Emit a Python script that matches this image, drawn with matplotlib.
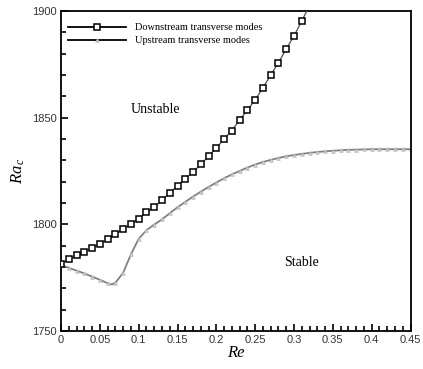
import numpy as np
import matplotlib
matplotlib.use("Agg")
import matplotlib.pyplot as plt
from matplotlib.ticker import MultipleLocator, FixedLocator

plt.rcParams["mathtext.fontset"] = "custom"
plt.rcParams["mathtext.it"] = "Liberation Serif:italic"
plt.rcParams["mathtext.rm"] = "Liberation Serif"

# Data
re_down = [0.00, 0.01, 0.02, 0.03, 0.04, 0.05, 0.06, 0.07, 0.08, 0.09,
           0.10, 0.11, 0.12, 0.13, 0.14, 0.15, 0.16, 0.17, 0.18, 0.19,
           0.20, 0.21, 0.22, 0.23, 0.24, 0.25, 0.26, 0.27, 0.28, 0.29,
           0.30, 0.31, 0.32]
ra_down = [1781.5, 1783.6, 1785.4, 1787.2, 1789.0, 1790.9, 1793.2, 1795.5, 1797.6, 1800.2,
           1802.7, 1805.6, 1808.0, 1811.3, 1814.7, 1818.1, 1821.4, 1824.5, 1828.1, 1831.9,
           1835.8, 1840.0, 1843.9, 1849.0, 1853.5, 1858.4, 1864.0, 1869.9, 1875.8, 1882.2,
           1888.3, 1895.3, 1902.6]

re_up = [0.00, 0.01, 0.02, 0.03, 0.04, 0.05, 0.06, 0.065, 0.07, 0.08, 0.09,
         0.10, 0.11, 0.12, 0.13, 0.14, 0.15, 0.16, 0.17, 0.18, 0.19,
         0.20, 0.21, 0.22, 0.23, 0.24, 0.25, 0.26, 0.27, 0.28, 0.29,
         0.30, 0.31, 0.32, 0.33, 0.34, 0.35, 0.36, 0.37, 0.38, 0.39,
         0.40, 0.41, 0.42, 0.43, 0.44, 0.45]
ra_up = [1781.0, 1779.6, 1778.3, 1777.0, 1775.5, 1774.0, 1772.4, 1771.8, 1772.6, 1777.3, 1785.9,
         1793.2, 1797.2, 1799.9, 1802.3, 1805.2, 1808.0, 1810.5, 1813.0, 1815.3, 1817.5,
         1819.6, 1821.6, 1823.4, 1825.0, 1826.6, 1828.0, 1829.2, 1830.2, 1831.1, 1831.9,
         1832.5, 1833.0, 1833.5, 1833.9, 1834.2, 1834.5, 1834.7, 1834.9, 1835.0, 1835.1,
         1835.2, 1835.2, 1835.2, 1835.2, 1835.2, 1835.2]

x_ticks = [0, 0.05, 0.1, 0.15, 0.2, 0.25, 0.3, 0.35, 0.4, 0.45]
x_ticklabels = ["0", "0.05", "0.1", "0.15", "0.2", "0.25", "0.3", "0.35", "0.4", "0.45"]
y_ticks = [1750, 1800, 1850, 1900]
y_ticklabels = ["1750", "1800", "1850", "1900"]

fig = plt.figure(figsize=(4.23, 3.69), dpi=100)
ax = fig.add_axes([61/423, 1-331/369, (410.5-61)/423, (331-11)/369])

up_marks = [i for i, r in enumerate(re_up) if r != 0.065]
ax.plot(re_up, ra_up, color="#808080", lw=1.3, marker="^", ms=2.6,
        mfc="#cccccc", mec="#b8b8b8", mew=0.5, markevery=up_marks,
        label="Upstream transverse modes", zorder=2)
ax.plot(re_down, ra_down, color="#505050", lw=0.9, marker="s", ms=3.8,
        mfc="white", mec="black", mew=1.1, markevery=list(range(len(re_down) - 1)),
        label="Downstream transverse modes", zorder=3)

ax.set_xlim(0, 0.45)
ax.set_ylim(1750, 1900)

ax.xaxis.set_major_locator(FixedLocator(x_ticks))
ax.set_xticklabels(x_ticklabels)
ax.xaxis.set_minor_locator(MultipleLocator(0.01))
ax.yaxis.set_major_locator(FixedLocator(y_ticks))
ax.set_yticklabels(y_ticklabels)
ax.yaxis.set_minor_locator(MultipleLocator(10))

ax.tick_params(axis="both", which="both", direction="in", top=False, right=False,
               labelsize=8, width=1.2, colors="black")
ax.tick_params(axis="both", which="major", length=5, pad=3)
ax.tick_params(axis="both", which="minor", length=3.5)
for lab in ax.get_xticklabels() + ax.get_yticklabels():
    lab.set_family("Liberation Sans")
    lab.set_color("#333333")

for s in ax.spines.values():
    s.set_linewidth(1.3)

ax.set_xlabel("Re", family="Liberation Serif", style="italic", fontsize=12, labelpad=0)
ax.set_ylabel("$Ra_{\\,c}$", fontsize=12, labelpad=4)

ax.text(0.121, 1853.7, "Unstable", family="Liberation Serif", fontsize=10,
        ha="center", va="center")
ax.text(0.31, 1782, "Stable", family="Liberation Serif", fontsize=10,
        ha="center", va="center")

handles, labels = ax.get_legend_handles_labels()
leg = ax.legend(handles[::-1], labels[::-1], loc="upper left", frameon=False,
                bbox_to_anchor=(0.0, 0.985), handlelength=5.5, handletextpad=0.9,
                labelspacing=0.35, borderaxespad=0.3,
                prop={"family": "Liberation Serif", "size": 7.5}, markerscale=1.0)
for ln in leg.get_lines():
    ln.set_color("black")
    ln.set_linewidth(1.3)

fig.savefig("out.png", dpi=100)
